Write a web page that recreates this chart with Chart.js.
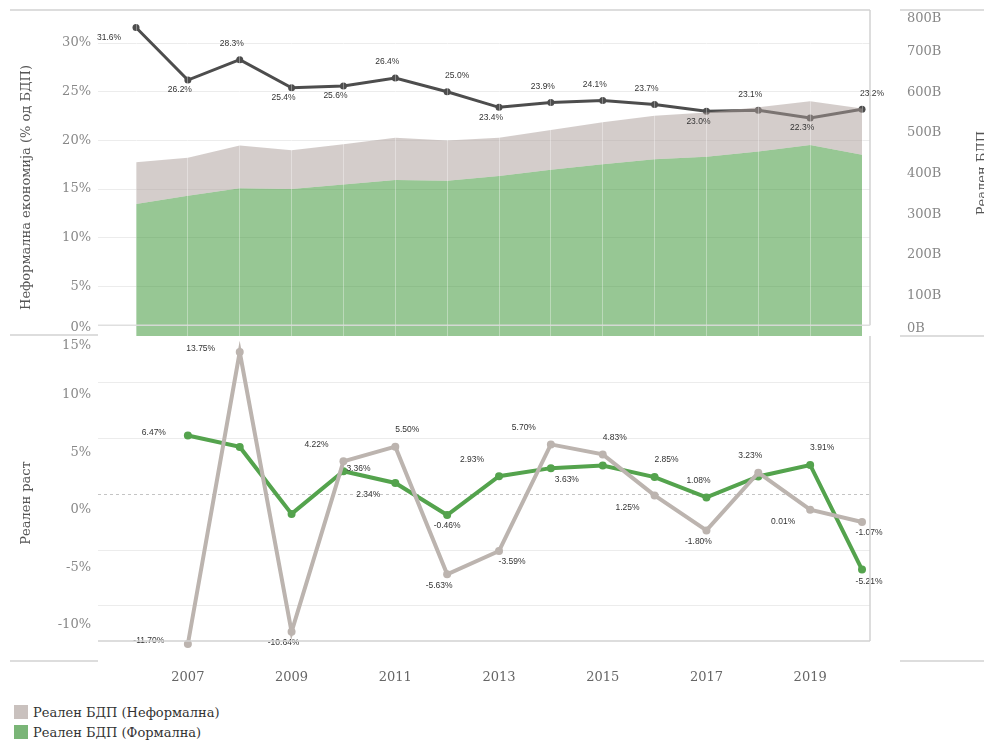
<!DOCTYPE html>
<html><head><meta charset="utf-8">
<script src="https://cdn.jsdelivr.net/npm/chart.js@4.4.0/dist/chart.umd.min.js"></script>
<style>
html,body{margin:0;padding:0;background:#fff;overflow:hidden;width:984px;height:740px;}
#wrap{position:relative;width:984px;height:740px;overflow:hidden;}
#c1{position:absolute;left:0;top:0;}
#c2{position:absolute;left:0;top:326px;}
#legend{position:absolute;left:14px;top:702px;font:13px "DejaVu Serif",serif;color:#333;}
.item{display:flex;align-items:center;height:20px;}
.sw{width:14px;height:14px;margin-right:5px;}
</style></head><body>
<div id="wrap">
<canvas id="c1" width="1000" height="345" style="width:1000px;height:345px"></canvas>
<canvas id="c2" width="1000" height="374" style="width:1000px;height:374px"></canvas>
<div id="legend"></div>
</div>
<script>
// ---- data ----
const years = [2006,2007,2008,2009,2010,2011,2012,2013,2014,2015,2016,2017,2018,2019,2020];
const informalShare = [31.6,26.2,28.3,25.4,25.6,26.4,25.0,23.4,23.9,24.1,23.7,23.0,23.1,22.3,23.2];
const formalGDP   = [325,345,364,362,373,384,382,394,409,423,435,441,454,470,446];
const informalGDP = [103,94,105,95,99,104,99,94,98,103,107,109,109,108,114];
const informalGrowth = [null,-11.70,13.75,-10.64,4.22,5.50,-5.63,-3.59,5.70,4.83,1.25,-1.80,3.23,0.01,-1.07];
const formalGrowth   = [null,6.47,5.48,-0.36,3.36,2.34,-0.46,2.93,3.63,3.85,2.85,1.08,2.90,3.91,-5.21];
const shareTicks  = [0,5,10,15,20,25,30];
const gdpTicks    = [0,100,200,300,400,500,600,700,800];
const growthTicks = [-10,-5,0,5,10,15];
const yearTicks   = [2007,2009,2011,2013,2015,2017,2019];
const seriesNames = ['Реален БДП (Неформална)','Реален БДП (Формална)'];

// ---- styles ----
const SERIF = '"DejaVu Serif", serif';
const AXIS_COLOR = '#888';
const TITLE_COLOR = '#555';
const FRAME = '#d2d2d2';
const X_MIN = 2005.267, X_MAX = 2020.154;
const legendColors = ['#c9c1be','#7ab577'];
const LABEL_FONT = '8.5px "Liberation Sans", Arial, sans-serif';
const TITLE_SHIFT = '\u00A0'.repeat(7);

document.getElementById('legend').innerHTML = seriesNames.map((n,i)=>
  `<div class="item"><div class="sw" style="background:${legendColors[i]}"></div>${n}</div>`).join('');

const pts = vals => years.map((y,i)=>({x:y, y: vals[i]}));
const setTicks = arr => s => { s.ticks = arr.map(v=>({value:v})); };
const noPad = w => s => { if (w!==undefined) s.width = w; s.paddingTop=0; s.paddingBottom=0; s.paddingLeft=0; s.paddingRight=0; };

const pointLabels = {
  id:'pointLabels',
  afterDatasetsDraw(chart){
    const ctx = chart.ctx;
    chart.data.datasets.forEach((ds,i)=>{
      const cfg = ds.labelCfg; if(!cfg) return;
      const meta = chart.getDatasetMeta(i);
      ctx.save();
      ctx.font = cfg.font; ctx.fillStyle = cfg.color;
      ctx.textAlign='center'; ctx.textBaseline='middle';
      meta.data.forEach((el,j)=>{
        const code = cfg.pos[j]; const raw = ds.data[j];
        if(!code || !raw || raw.y==null) return;
        const o = cfg.offsets[code];
        ctx.fillText(cfg.fmt(raw.y), el.x+o[0], el.y+o[1]);
      });
      ctx.restore();
    });
  }
};

function seg(ctx,x1,y1,x2,y2,color,w,dash){
  ctx.save(); ctx.strokeStyle=color; ctx.lineWidth=w||1.5; if(dash) ctx.setLineDash(dash);
  ctx.beginPath(); ctx.moveTo(x1,y1); ctx.lineTo(x2,y2); ctx.stroke(); ctx.restore();
}

const topFrame = {
  id:'topFrame',
  afterDraw(chart){
    const a = chart.chartArea, ctx = chart.ctx, W = chart.width;
    const base = chart.scales.y.getPixelForValue(1);
    seg(ctx,10,a.top,a.right,a.top,FRAME);
    seg(ctx,a.right,a.top,a.right,base,FRAME);
    seg(ctx,a.left,base,a.right,base,'rgba(220,220,220,0.9)');
    seg(ctx,10,a.bottom-1,a.left,a.bottom-1,FRAME);
    seg(ctx,a.right+30,a.top,W,a.top,FRAME);
    seg(ctx,a.right+30,a.bottom,W,a.bottom,FRAME);
    // right axis title
    ctx.save();
    ctx.font = '13px '+SERIF; ctx.fillStyle = TITLE_COLOR;
    ctx.textAlign='center'; ctx.textBaseline='alphabetic';
    ctx.translate(985.5,(a.top+a.bottom)/2); ctx.rotate(-Math.PI/2);
    ctx.fillText('Реален БДП',0,0);
    ctx.restore();
  }
};

const botFrame = {
  id:'botFrame',
  beforeDatasetsDraw(chart){
    const a = chart.chartArea, ctx = chart.ctx;
    const yRef = chart.scales.yg.getPixelForValue(2);
    seg(ctx,a.left,yRef,a.right,yRef,'#c4c4c4',1,[3,3]);
  },
  afterDraw(chart){
    const a = chart.chartArea, ctx = chart.ctx, W = chart.width;
    seg(ctx,a.right,a.top,a.right,a.bottom,FRAME);
    seg(ctx,a.left,a.bottom,a.right,a.bottom,FRAME);
    seg(ctx,10,a.bottom+20,a.left,a.bottom+20,FRAME);
    seg(ctx,a.right+30,a.bottom+20,W,a.bottom+20,FRAME);
  }
};

const tickFont = {family:'DejaVu Serif', size:13};
const titleFont = {family:'DejaVu Serif', size:13};

// ---- top chart ----
new Chart(document.getElementById('c1'),{
  type:'line',
  data:{datasets:[
    {label:seriesNames[1], data:pts(formalGDP), yAxisID:'yR', fill:'origin',
     backgroundColor:'rgba(47,143,41,0.5)', borderWidth:0, pointRadius:0, order:2},
    {label:seriesNames[0], data:years.map((y,i)=>({x:y, y:formalGDP[i]+informalGDP[i]})), yAxisID:'yR', fill:'-1',
     backgroundColor:'rgba(170,156,152,0.5)', borderWidth:0, pointRadius:0, order:1},
    {label:'Неформална економија', data:pts(informalShare), yAxisID:'y', fill:false,
     borderColor:'#4d4d4d', backgroundColor:'#4d4d4d', borderWidth:3, pointRadius:3.5,
     pointBackgroundColor:'#4d4d4d', pointBorderWidth:0, order:3, tension:0,
     labelCfg:{font:LABEL_FONT, color:'#333', fmt:v=>v.toFixed(1)+'%',
       pos:['lb','b','a','b','b','a','ar','b','a','a','a','b','a','b','ar'],
       offsets:{lb:[-27,10], b:[-8,10], a:[-8,-16], ar:[10,-16]}}}
  ]},
  options:{
    responsive:false, animation:false,
    layout:{padding:{top:10,bottom:9,left:0,right:0}},
    plugins:{legend:{display:false}, tooltip:{enabled:false}},
    scales:{
      x:{type:'linear', min:X_MIN, max:X_MAX, afterBuildTicks:setTicks(years),
         ticks:{display:false}, grid:{drawTicks:false, z:1, color:'rgba(255,255,255,0.35)'},
         border:{display:false}, afterFit:s=>{s.height=0; noPad()(s);} },
      y:{position:'left', min:-0.1, max:33.4, afterBuildTicks:setTicks(shareTicks),
         ticks:{padding:7, color:AXIS_COLOR, font:tickFont, callback:v=> v===0 ? ['0%',''] : v+'%'},
         grid:{drawTicks:false, color:c=> c.tick && c.tick.value===0 ? 'rgba(0,0,0,0)' : '#ececec'},
         border:{display:false},
         title:{display:true, text:'Неформална економија (% од БДП)'+TITLE_SHIFT, color:TITLE_COLOR, font:titleFont, padding:{top:19,bottom:0}},
         afterFit:noPad(98)},
      yR:{position:'right', min:0, max:802.5, afterBuildTicks:setTicks(gdpTicks),
         ticks:{padding:37, color:AXIS_COLOR, font:tickFont,
           callback:v=> v===0 ? ['0B',''] : (v===800 ? ['','800B'] : v+'B')},
         grid:{display:false, drawTicks:false}, border:{display:false}, afterFit:noPad(130)}
    }
  },
  plugins:[pointLabels, topFrame]
});

// ---- bottom chart ----
new Chart(document.getElementById('c2'),{
  type:'line',
  data:{datasets:[
    {label:seriesNames[0], data:pts(informalGrowth), yAxisID:'y', fill:false,
     borderColor:'#bcb4af', backgroundColor:'#bcb4af', pointBackgroundColor:'#bcb4af', pointBorderWidth:0,
     borderWidth:4, pointRadius:4, tension:0, clip:false,
     labelCfg:{font:LABEL_FONT, color:'#333', fmt:v=>v.toFixed(2)+'%',
       pos:[null,'l','l','b','al','ar','b','br','al','ar','bl','b','a','bl','bs'],
       offsets:{l:[-39,-3], r:[15,-3], a:[-8,-17], b:[-8,11], al:[-27,-17], ar:[12,-17], bl:[-27,12], br:[13,11], bs:[7,11]}}},
    {label:seriesNames[1], data:pts(formalGrowth), yAxisID:'y', fill:false,
     borderColor:'#54a34d', backgroundColor:'#54a34d', pointBackgroundColor:'#54a34d', pointBorderWidth:0,
     borderWidth:4, pointRadius:4, tension:0, clip:false,
     labelCfg:{font:LABEL_FONT, color:'#333', fmt:v=>v.toFixed(2)+'%',
       pos:[null,'l',null,null,'r','bl','b0','al','br',null,'ar','a',null,'ar','bs'],
       offsets:{l:[-34,-3], r:[15,-3], a:[-8,-17], b0:[0,11], al:[-27,-17], ar:[12,-17], bl:[-27,12], br:[16,12], bs:[7,12]}}}
  ]},
  options:{
    responsive:false, animation:false,
    layout:{padding:{top:10,bottom:0,left:0,right:0}},
    plugins:{legend:{display:false}, tooltip:{enabled:false}},
    scales:{
      x:{type:'linear', min:X_MIN, max:X_MAX, afterBuildTicks:setTicks(yearTicks),
         ticks:{padding:29, color:'#666', font:tickFont, callback:v=>String(v)},
         grid:{display:false, drawTicks:false}, border:{display:false},
         afterFit:s=>{s.height=59; noPad()(s);} },
      y:{position:'left', min:-11.44, max:15.15, afterBuildTicks:setTicks(growthTicks),
         ticks:{padding:7, color:AXIS_COLOR, font:tickFont, callback:v=> v===15 ? ['','15%'] : v+'%'},
         grid:{display:false, drawTicks:false}, border:{display:false},
         title:{display:true, text:'Реален раст'+TITLE_SHIFT, color:TITLE_COLOR, font:titleFont, padding:{top:19,bottom:0}},
         afterFit:noPad(98)},
      yg:{position:'right', min:-0.628, max:4.843, afterBuildTicks:setTicks([0,1,2,3,4]),
         ticks:{display:false},
         grid:{drawTicks:false, color:c=> c.tick && c.tick.value===2 ? 'rgba(0,0,0,0)' : '#ececec'},
         border:{display:false}, afterFit:noPad(130)}
    }
  },
  plugins:[pointLabels, botFrame]
});
</script>
</body></html>
